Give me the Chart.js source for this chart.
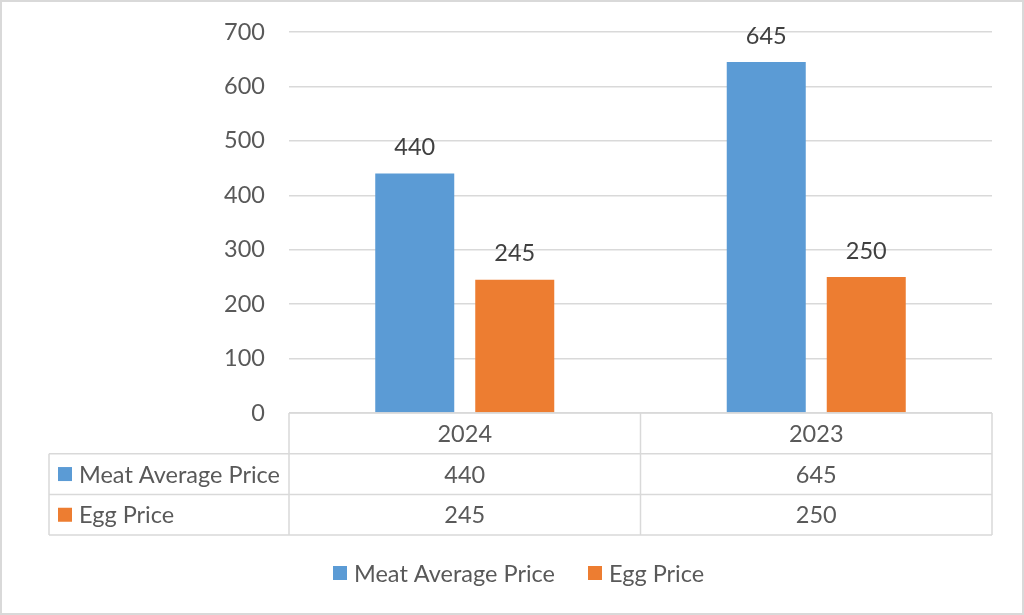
<!DOCTYPE html>
<html>
<head>
<meta charset="utf-8">
<script src="https://cdn.jsdelivr.net/npm/chart.js@4.4.1/dist/chart.umd.min.js"></script>
<style>
  html, body { margin: 0; padding: 0; background: #ffffff; }
  #wrap { width: 1024px; height: 615px; position: relative; }
</style>
</head>
<body>
<div id="wrap"><canvas id="c" width="1024" height="615"></canvas></div>
<script>
const categories = ['2024', '2023'];
const meatAveragePrice = [440, 645];
const eggPrice = [245, 250];
const seriesNames = ['Meat Average Price', 'Egg Price'];
const yTicks = [0, 100, 200, 300, 400, 500, 600, 700];

const FONT = 'Lato, "Open Sans", sans-serif';
const FS = 23.5;
const GRID = '#d9d9d9';
const TXT = '#595959';
const COLORS = ['#5B9BD5', '#ED7D31'];

const tablePlugin = {
  id: 'tablePlugin',
  afterDatasetsDraw(chart) {
    const ctx = chart.ctx;
    ctx.save();
    ctx.font = FS + 'px ' + FONT;
    ctx.fillStyle = '#404040';
    ctx.textAlign = 'center';
    ctx.textBaseline = 'middle';
    chart.data.datasets.forEach((ds, di) => {
      const meta = chart.getDatasetMeta(di);
      meta.data.forEach((bar, i) => {
        ctx.fillText(String(ds.data[i]), bar.x, bar.y - 26);
      });
    });
    ctx.restore();
  },
  afterDraw(chart) {
    const ctx = chart.ctx;
    const area = chart.chartArea;
    const xs = chart.scales.x;
    const rowH = 40.7;
    const top = area.bottom;
    const leftCol = 49;
    const bounds = [area.left];
    for (let i = 0; i < categories.length - 1; i++) {
      bounds.push((xs.getPixelForValue(i) + xs.getPixelForValue(i + 1)) / 2);
    }
    bounds.push(area.right);
    ctx.save();
    ctx.strokeStyle = GRID;
    ctx.lineWidth = 1.5;
    ctx.beginPath();
    ctx.moveTo(area.left, top); ctx.lineTo(area.right, top);
    for (let r = 1; r <= 3; r++) {
      const y = top + rowH * r;
      ctx.moveTo(leftCol, y); ctx.lineTo(area.right, y);
    }
    ctx.moveTo(leftCol, top + rowH); ctx.lineTo(leftCol, top + rowH * 3);
    bounds.forEach(b => { ctx.moveTo(b, top); ctx.lineTo(b, top + rowH * 3); });
    ctx.stroke();

    ctx.font = FS + 'px ' + FONT;
    ctx.fillStyle = TXT;
    ctx.textBaseline = 'middle';
    ctx.textAlign = 'center';
    categories.forEach((c, i) => {
      const cx = (bounds[i] + bounds[i + 1]) / 2;
      ctx.fillText(c, cx, top + rowH * 0.5 + 1);
      ctx.fillText(String(meatAveragePrice[i]), cx, top + rowH * 1.5 + 1);
      ctx.fillText(String(eggPrice[i]), cx, top + rowH * 2.5 + 1);
    });
    ctx.textAlign = 'left';
    seriesNames.forEach((n, r) => {
      const cy = top + rowH * (1.5 + r);
      ctx.fillStyle = COLORS[r];
      ctx.fillRect(58, cy - 7, 14, 14);
      ctx.fillStyle = TXT;
      ctx.fillText(n, 79, cy + 1);
    });

    const ly = 573;
    const items = [{ x: 333, t: seriesNames[0], c: COLORS[0] }, { x: 588, t: seriesNames[1], c: COLORS[1] }];
    items.forEach(it => {
      ctx.fillStyle = it.c;
      ctx.fillRect(it.x, ly - 7, 14, 14);
      ctx.fillStyle = TXT;
      ctx.fillText(it.t, it.x + 21, ly + 1);
    });

    ctx.strokeStyle = GRID;
    ctx.lineWidth = 2;
    ctx.strokeRect(1, 1, 1022, 613);
    ctx.restore();
  }
};

const bg = {
  id: 'bg',
  beforeDraw(chart) {
    const ctx = chart.ctx;
    ctx.save();
    ctx.fillStyle = '#ffffff';
    ctx.fillRect(0, 0, chart.width, chart.height);
    ctx.restore();
  }
};

new Chart(document.getElementById('c'), {
  type: 'bar',
  data: {
    labels: categories,
    datasets: [
      { label: seriesNames[0], data: meatAveragePrice, backgroundColor: COLORS[0], barPercentage: 0.79, categoryPercentage: 0.569 },
      { label: seriesNames[1], data: eggPrice, backgroundColor: COLORS[1], barPercentage: 0.79, categoryPercentage: 0.569 }
    ]
  },
  options: {
    responsive: false,
    animation: false,
    devicePixelRatio: 1,
    layout: { padding: { left: 0, right: 32, top: 32, bottom: 202 } },
    plugins: { legend: { display: false }, tooltip: { enabled: false } },
    scales: {
      x: {
        display: false,
        grid: { display: false }
      },
      y: {
        min: 0, max: 700,
        afterFit(scale) { scale.width = 289; scale.paddingTop = 0; scale.paddingBottom = 0; },
        afterBuildTicks(scale) { scale.ticks = yTicks.map(v => ({ value: v })); },
        ticks: { color: TXT, font: { family: FONT, size: FS }, padding: 24 },
        grid: { color: GRID, lineWidth: 1.5, drawTicks: false },
        border: { display: false }
      }
    }
  },
  plugins: [bg, tablePlugin]
});
</script>
</body>
</html>
